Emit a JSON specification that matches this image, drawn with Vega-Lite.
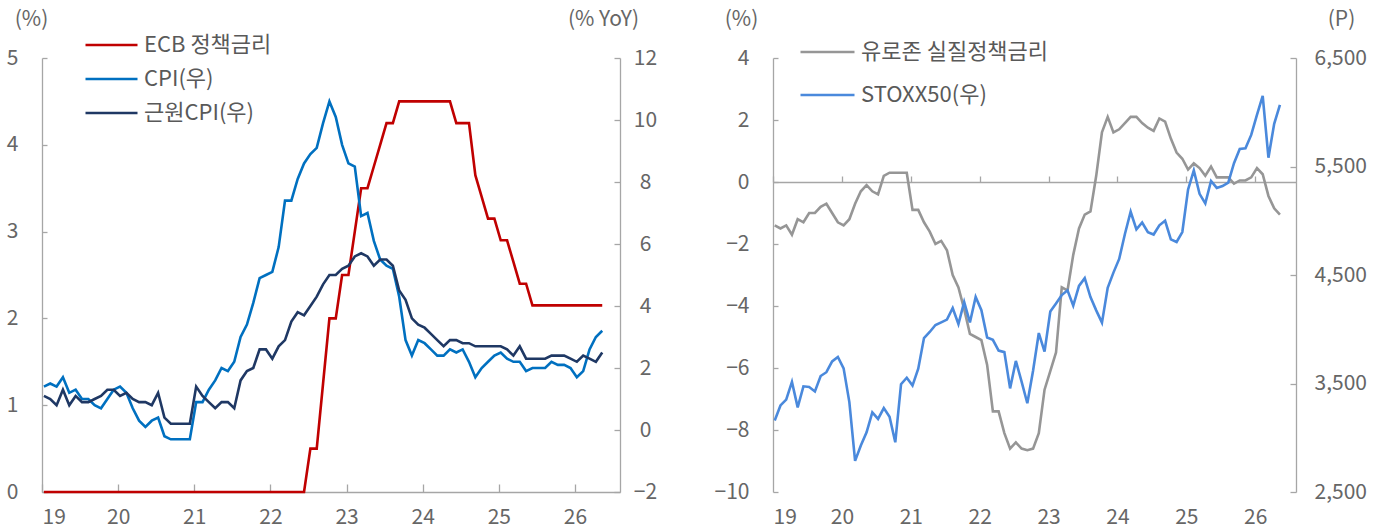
{
  "$schema": "https://vega.github.io/schema/vega-lite/v6.json",
  "padding": {"left": 6, "top": 8, "right": 5, "bottom": 3},
  "background": "white",
  "datasets": {
    "eu": [
      {"m": 0, "ecb": 0, "cpi": 1.4, "core": 1.1, "real": -1.4, "stoxx": 3159},
      {"m": 1, "ecb": 0, "cpi": 1.5, "core": 1.0, "real": -1.5, "stoxx": 3298},
      {"m": 2, "ecb": 0, "cpi": 1.4, "core": 0.8, "real": -1.4, "stoxx": 3352},
      {"m": 3, "ecb": 0, "cpi": 1.7, "core": 1.3, "real": -1.7, "stoxx": 3515},
      {"m": 4, "ecb": 0, "cpi": 1.2, "core": 0.8, "real": -1.2, "stoxx": 3280},
      {"m": 5, "ecb": 0, "cpi": 1.3, "core": 1.1, "real": -1.3, "stoxx": 3474},
      {"m": 6, "ecb": 0, "cpi": 1.0, "core": 0.9, "real": -1.0, "stoxx": 3467},
      {"m": 7, "ecb": 0, "cpi": 1.0, "core": 0.9, "real": -1.0, "stoxx": 3427},
      {"m": 8, "ecb": 0, "cpi": 0.8, "core": 1.0, "real": -0.8, "stoxx": 3569},
      {"m": 9, "ecb": 0, "cpi": 0.7, "core": 1.1, "real": -0.7, "stoxx": 3604},
      {"m": 10, "ecb": 0, "cpi": 1.0, "core": 1.3, "real": -1.0, "stoxx": 3703},
      {"m": 11, "ecb": 0, "cpi": 1.3, "core": 1.3, "real": -1.3, "stoxx": 3745},
      {"m": 12, "ecb": 0, "cpi": 1.4, "core": 1.1, "real": -1.4, "stoxx": 3640},
      {"m": 13, "ecb": 0, "cpi": 1.2, "core": 1.2, "real": -1.2, "stoxx": 3329},
      {"m": 14, "ecb": 0, "cpi": 0.7, "core": 1.0, "real": -0.7, "stoxx": 2787},
      {"m": 15, "ecb": 0, "cpi": 0.3, "core": 0.9, "real": -0.3, "stoxx": 2928},
      {"m": 16, "ecb": 0, "cpi": 0.1, "core": 0.9, "real": -0.1, "stoxx": 3050},
      {"m": 17, "ecb": 0, "cpi": 0.3, "core": 0.8, "real": -0.3, "stoxx": 3234},
      {"m": 18, "ecb": 0, "cpi": 0.4, "core": 1.2, "real": -0.4, "stoxx": 3174},
      {"m": 19, "ecb": 0, "cpi": -0.2, "core": 0.4, "real": 0.2, "stoxx": 3273},
      {"m": 20, "ecb": 0, "cpi": -0.3, "core": 0.2, "real": 0.3, "stoxx": 3194},
      {"m": 21, "ecb": 0, "cpi": -0.3, "core": 0.2, "real": 0.3, "stoxx": 2958},
      {"m": 22, "ecb": 0, "cpi": -0.3, "core": 0.2, "real": 0.3, "stoxx": 3493},
      {"m": 23, "ecb": 0, "cpi": -0.3, "core": 0.2, "real": 0.3, "stoxx": 3553},
      {"m": 24, "ecb": 0, "cpi": 0.9, "core": 1.4, "real": -0.9, "stoxx": 3481},
      {"m": 25, "ecb": 0, "cpi": 0.9, "core": 1.1, "real": -0.9, "stoxx": 3636},
      {"m": 26, "ecb": 0, "cpi": 1.3, "core": 0.9, "real": -1.3, "stoxx": 3919},
      {"m": 27, "ecb": 0, "cpi": 1.6, "core": 0.7, "real": -1.6, "stoxx": 3975},
      {"m": 28, "ecb": 0, "cpi": 2.0, "core": 0.9, "real": -2.0, "stoxx": 4039},
      {"m": 29, "ecb": 0, "cpi": 1.9, "core": 0.9, "real": -1.9, "stoxx": 4064},
      {"m": 30, "ecb": 0, "cpi": 2.2, "core": 0.7, "real": -2.2, "stoxx": 4089},
      {"m": 31, "ecb": 0, "cpi": 3.0, "core": 1.6, "real": -3.0, "stoxx": 4196},
      {"m": 32, "ecb": 0, "cpi": 3.4, "core": 1.9, "real": -3.4, "stoxx": 4048},
      {"m": 33, "ecb": 0, "cpi": 4.1, "core": 2.0, "real": -4.1, "stoxx": 4251},
      {"m": 34, "ecb": 0, "cpi": 4.9, "core": 2.6, "real": -4.9, "stoxx": 4063},
      {"m": 35, "ecb": 0, "cpi": 5.0, "core": 2.6, "real": -5.0, "stoxx": 4298},
      {"m": 36, "ecb": 0, "cpi": 5.1, "core": 2.3, "real": -5.1, "stoxx": 4175},
      {"m": 37, "ecb": 0, "cpi": 5.9, "core": 2.7, "real": -5.9, "stoxx": 3924},
      {"m": 38, "ecb": 0, "cpi": 7.4, "core": 2.9, "real": -7.4, "stoxx": 3903},
      {"m": 39, "ecb": 0, "cpi": 7.4, "core": 3.5, "real": -7.4, "stoxx": 3803},
      {"m": 40, "ecb": 0, "cpi": 8.1, "core": 3.8, "real": -8.1, "stoxx": 3789},
      {"m": 41, "ecb": 0, "cpi": 8.6, "core": 3.7, "real": -8.6, "stoxx": 3455},
      {"m": 42, "ecb": 0.5, "cpi": 8.9, "core": 4.0, "real": -8.4, "stoxx": 3708},
      {"m": 43, "ecb": 0.5, "cpi": 9.1, "core": 4.3, "real": -8.6, "stoxx": 3517},
      {"m": 44, "ecb": 1.25, "cpi": 9.9, "core": 4.7, "real": -8.65, "stoxx": 3318},
      {"m": 45, "ecb": 2.0, "cpi": 10.6, "core": 5.0, "real": -8.6, "stoxx": 3618},
      {"m": 46, "ecb": 2.0, "cpi": 10.1, "core": 5.0, "real": -8.1, "stoxx": 3965},
      {"m": 47, "ecb": 2.5, "cpi": 9.2, "core": 5.2, "real": -6.7, "stoxx": 3794},
      {"m": 48, "ecb": 2.5, "cpi": 8.6, "core": 5.3, "real": -6.1, "stoxx": 4163},
      {"m": 49, "ecb": 3.0, "cpi": 8.5, "core": 5.6, "real": -5.5, "stoxx": 4238},
      {"m": 50, "ecb": 3.5, "cpi": 6.9, "core": 5.7, "real": -3.4, "stoxx": 4315},
      {"m": 51, "ecb": 3.5, "cpi": 7.0, "core": 5.6, "real": -3.5, "stoxx": 4359},
      {"m": 52, "ecb": 3.75, "cpi": 6.1, "core": 5.3, "real": -2.35, "stoxx": 4218},
      {"m": 53, "ecb": 4.0, "cpi": 5.5, "core": 5.5, "real": -1.5, "stoxx": 4399},
      {"m": 54, "ecb": 4.25, "cpi": 5.3, "core": 5.5, "real": -1.05, "stoxx": 4471},
      {"m": 55, "ecb": 4.25, "cpi": 5.2, "core": 5.3, "real": -0.95, "stoxx": 4297},
      {"m": 56, "ecb": 4.5, "cpi": 4.3, "core": 4.5, "real": 0.2, "stoxx": 4174},
      {"m": 57, "ecb": 4.5, "cpi": 2.9, "core": 4.2, "real": 1.6, "stoxx": 4061},
      {"m": 58, "ecb": 4.5, "cpi": 2.4, "core": 3.6, "real": 2.1, "stoxx": 4382},
      {"m": 59, "ecb": 4.5, "cpi": 2.9, "core": 3.4, "real": 1.6, "stoxx": 4522},
      {"m": 60, "ecb": 4.5, "cpi": 2.8, "core": 3.3, "real": 1.7, "stoxx": 4648},
      {"m": 61, "ecb": 4.5, "cpi": 2.6, "core": 3.1, "real": 1.9, "stoxx": 4878},
      {"m": 62, "ecb": 4.5, "cpi": 2.4, "core": 2.9, "real": 2.1, "stoxx": 5083},
      {"m": 63, "ecb": 4.5, "cpi": 2.4, "core": 2.7, "real": 2.1, "stoxx": 4921},
      {"m": 64, "ecb": 4.5, "cpi": 2.6, "core": 2.9, "real": 1.9, "stoxx": 4984},
      {"m": 65, "ecb": 4.25, "cpi": 2.5, "core": 2.9, "real": 1.75, "stoxx": 4894},
      {"m": 66, "ecb": 4.25, "cpi": 2.6, "core": 2.8, "real": 1.65, "stoxx": 4873},
      {"m": 67, "ecb": 4.25, "cpi": 2.2, "core": 2.8, "real": 2.05, "stoxx": 4958},
      {"m": 68, "ecb": 3.65, "cpi": 1.7, "core": 2.7, "real": 1.95, "stoxx": 5000},
      {"m": 69, "ecb": 3.4, "cpi": 2.0, "core": 2.7, "real": 1.4, "stoxx": 4828},
      {"m": 70, "ecb": 3.15, "cpi": 2.2, "core": 2.7, "real": 0.95, "stoxx": 4804},
      {"m": 71, "ecb": 3.15, "cpi": 2.4, "core": 2.7, "real": 0.75, "stoxx": 4896},
      {"m": 72, "ecb": 2.9, "cpi": 2.5, "core": 2.7, "real": 0.4, "stoxx": 5287},
      {"m": 73, "ecb": 2.9, "cpi": 2.3, "core": 2.6, "real": 0.6, "stoxx": 5464},
      {"m": 74, "ecb": 2.65, "cpi": 2.2, "core": 2.4, "real": 0.45, "stoxx": 5248},
      {"m": 75, "ecb": 2.4, "cpi": 2.2, "core": 2.7, "real": 0.2, "stoxx": 5160},
      {"m": 76, "ecb": 2.4, "cpi": 1.9, "core": 2.3, "real": 0.5, "stoxx": 5367},
      {"m": 77, "ecb": 2.15, "cpi": 2.0, "core": 2.3, "real": 0.15, "stoxx": 5303},
      {"m": 78, "ecb": 2.15, "cpi": 2.0, "core": 2.3, "real": 0.15, "stoxx": 5320},
      {"m": 79, "ecb": 2.15, "cpi": 2.0, "core": 2.3, "real": 0.15, "stoxx": 5352},
      {"m": 80, "ecb": 2.15, "cpi": 2.2, "core": 2.4, "real": -0.05, "stoxx": 5530},
      {"m": 81, "ecb": 2.15, "cpi": 2.1, "core": 2.4, "real": 0.05, "stoxx": 5662},
      {"m": 82, "ecb": 2.15, "cpi": 2.1, "core": 2.4, "real": 0.05, "stoxx": 5668},
      {"m": 83, "ecb": 2.15, "cpi": 2.0, "core": 2.3, "real": 0.15, "stoxx": 5791},
      {"m": 84, "ecb": 2.15, "cpi": 1.7, "core": 2.2, "real": 0.45, "stoxx": 5975},
      {"m": 85, "ecb": 2.15, "cpi": 1.9, "core": 2.4, "real": 0.25, "stoxx": 6150},
      {"m": 86, "ecb": 2.15, "cpi": 2.6, "core": 2.3, "real": -0.45, "stoxx": 5581},
      {"m": 87, "ecb": 2.15, "cpi": 3.0, "core": 2.2, "real": -0.85, "stoxx": 5894},
      {"m": 88, "ecb": 2.15, "cpi": 3.2, "core": 2.5, "real": -1.05, "stoxx": 6067}
    ]
  },
  "data": {"name": "eu"},
  "spacing": 153,
  "bounds": "flush",
  "hconcat": [
    {
      "width": 578,
      "height": 434,
      "layer": [
        {
          "mark": {"type": "line", "strokeWidth": 2.6},
          "encoding": {
            "x": {"field": "m", "type": "quantitative",
              "scale": {"domain": [-0.3, 90.8], "nice": false, "zero": false},
              "axis": {"values": [-0.3, 11.7, 23.7, 35.7, 47.7, 59.7, 71.7, 83.7],
                "labelExpr": "'' + (19 + round(datum.value / 12))",
                "tickSize": -8, "labelPadding": 22, "title": null}},
            "y": {"field": "ecb", "type": "quantitative",
              "scale": {"domain": [0, 5], "nice": false},
              "axis": {"orient": "left", "values": [0, 1, 2, 3, 4, 5], "tickSize": -5, "labelPadding": 29,
                "title": "(%)", "titleAngle": 0, "titleX": -11, "titleY": -39,
                "titleAlign": "center", "titleBaseline": "middle"}},
            "color": {"datum": "ECB 정책금리", "type": "nominal",
              "scale": {"domain": ["ECB 정책금리", "CPI(우)", "근원CPI(우)"], "range": ["#C00000", "#0070C0", "#1F3864"]},
              "legend": {"orient": "none", "legendX": 42, "legendY": -29.75, "title": null,
                "symbolType": "stroke", "symbolSize": 2704, "symbolStrokeWidth": 2.6,
                "clipHeight": 33.5, "rowPadding": 0, "labelOffset": 5, "padding": 0, "labelLimit": 500,
                "labelFontSize": 22, "labelColor": "#595959", "labelFont": "Noto Sans CJK KR"}}
          }
        },
        {
          "layer": [
            {
              "mark": {"type": "line", "strokeWidth": 2.6},
              "encoding": {
                "x": {"field": "m", "type": "quantitative"},
                "y": {"field": "cpi", "type": "quantitative",
                  "scale": {"domain": [-2, 12], "nice": false, "zero": false},
                  "axis": {"orient": "right", "values": [-2, 0, 2, 4, 6, 8, 10, 12], "tickSize": -6,
                    "labelPadding": 31, "labelAlign": "center",
                    "title": "(% YoY)", "titleAngle": 0, "titleX": -17, "titleY": -39,
                    "titleAlign": "center", "titleBaseline": "middle"}},
                "color": {"datum": "CPI(우)", "type": "nominal"}
              }
            },
            {
              "mark": {"type": "line", "strokeWidth": 2.6},
              "encoding": {
                "x": {"field": "m", "type": "quantitative"},
                "y": {"field": "core", "type": "quantitative"},
                "color": {"datum": "근원CPI(우)", "type": "nominal"}
              }
            }
          ]
        }
      ],
      "resolve": {"scale": {"y": "independent"}, "axis": {"y": "independent"}}
    },
    {
      "width": 523,
      "height": 434,
      "layer": [
        {
          "mark": {"type": "line", "strokeWidth": 2.6},
          "encoding": {
            "x": {"field": "m", "type": "quantitative",
              "scale": {"domain": [-0.3, 90.8], "nice": false, "zero": false},
              "axis": {"orient": "bottom", "values": [-0.3, 11.7, 23.7, 35.7, 47.7, 59.7, 71.7, 83.7],
                "labelExpr": "'' + (19 + round(datum.value / 12))",
                "domain": false, "ticks": false, "labelPadding": 14, "title": null}},
            "y": {"field": "real", "type": "quantitative",
              "scale": {"domain": [-10, 4], "nice": false, "zero": false},
              "axis": {"orient": "left", "values": [-10, -8, -6, -4, -2, 0, 2, 4], "tickSize": -5, "labelPadding": 29,
                "title": "(%)", "titleAngle": 0, "titleX": -32, "titleY": -39,
                "titleAlign": "center", "titleBaseline": "middle"}},
            "color": {"datum": "유로존 실질정책금리", "type": "nominal",
              "scale": {"domain": ["유로존 실질정책금리", "STOXX50(우)"], "range": ["#969696", "#4A89DC"]},
              "legend": {"orient": "none", "legendX": 26, "legendY": -27.5, "title": null,
                "symbolType": "stroke", "symbolSize": 2916, "symbolStrokeWidth": 2.6,
                "clipHeight": 43, "rowPadding": 0, "labelOffset": 5, "padding": 0, "labelLimit": 500,
                "labelFontSize": 22, "labelColor": "#595959", "labelFont": "Noto Sans CJK KR"}}
          }
        },
        {
          "mark": {"type": "line", "strokeWidth": 2.6},
          "encoding": {
            "x": {"field": "m", "type": "quantitative",
              "axis": {"orient": "top", "values": [-0.3, 11.7, 23.7, 35.7, 47.7, 59.7, 71.7, 83.7],
                "labels": false, "tickSize": 6, "offset": -124, "title": null}},
            "y": {"field": "stoxx", "type": "quantitative",
              "scale": {"domain": [2500, 6500], "nice": false, "zero": false},
              "axis": {"orient": "right", "values": [2500, 3500, 4500, 5500, 6500], "format": ",.0f",
                "tickSize": -6, "labelPadding": 24,
                "title": "(P)", "titleAngle": 0, "titleX": 45, "titleY": -39,
                "titleAlign": "center", "titleBaseline": "middle"}},
            "color": {"datum": "STOXX50(우)", "type": "nominal"}
          }
        }
      ],
      "resolve": {"scale": {"y": "independent"}, "axis": {"y": "independent", "x": "independent"}}
    }
  ],
  "resolve": {"scale": {"color": "independent", "x": "independent", "y": "independent"}, "legend": {"color": "independent"}},
  "config": {
    "font": "Noto Sans CJK KR",
    "view": {"stroke": null},
    "axis": {
      "grid": false,
      "domainColor": "#A6A6A6", "tickColor": "#A6A6A6", "domainWidth": 1.3, "tickWidth": 1.3,
      "labelColor": "#666666", "labelFontSize": 21, "labelFont": "Noto Sans CJK KR",
      "titleColor": "#666666", "titleFontSize": 21, "titleFont": "Noto Sans CJK KR", "titleFontWeight": "normal"
    }
  }
}
